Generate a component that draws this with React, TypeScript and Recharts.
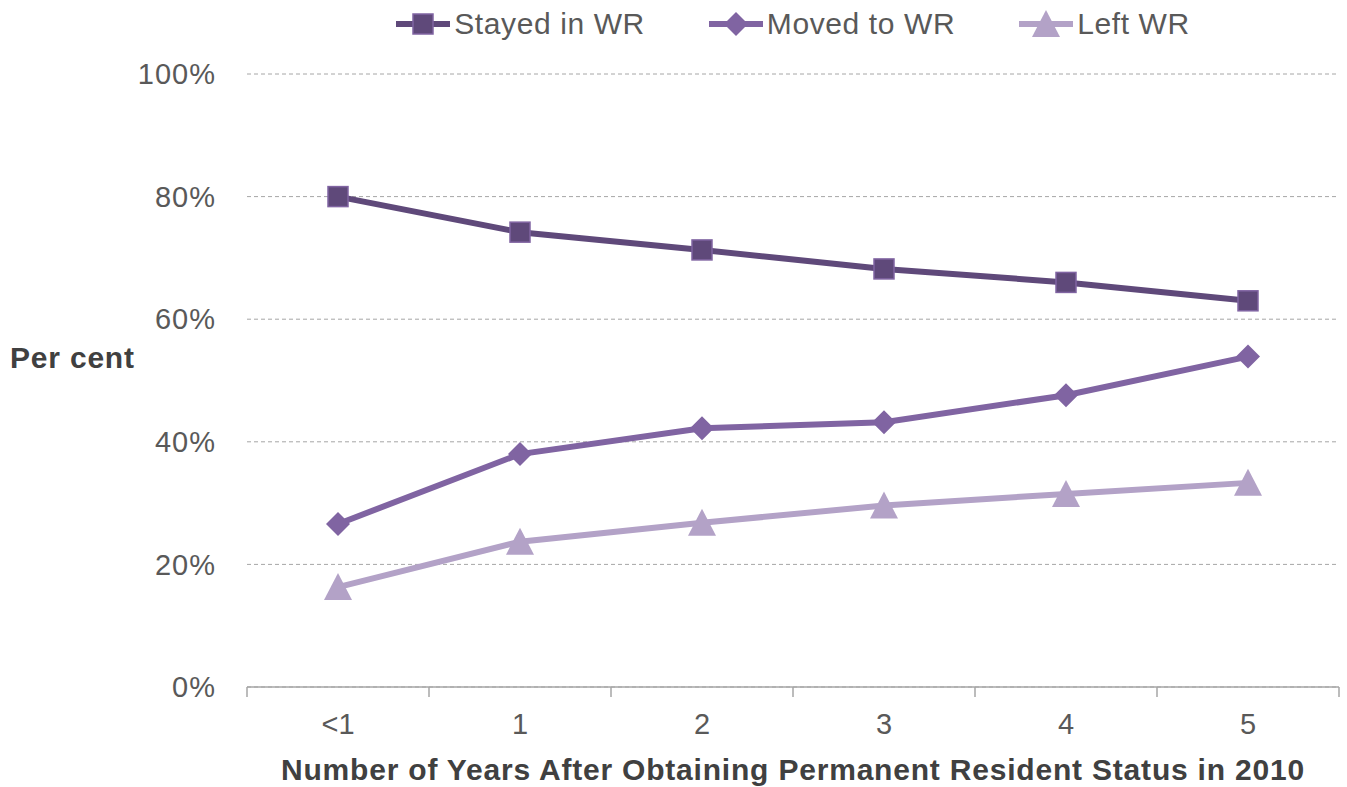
import React from "react";
import { LineChart, Line, XAxis, YAxis, CartesianGrid, Legend, Label } from "recharts";

const years = ["<1", "1", "2", "3", "4", "5"];
const stayed = [80.0, 74.2, 71.3, 68.2, 66.0, 63.0];
const moved = [26.6, 38.0, 42.2, 43.2, 47.6, 53.9];
const left = [16.3, 23.7, 26.8, 29.6, 31.5, 33.3];
const yTicks = [0, 20, 40, 60, 80, 100];
const edgeTicks = [0, 1, 2, 3, 4, 5, 6];
const edgeDomain = [0, 6];

const FONT = "'Liberation Sans', Arial, sans-serif";
const DARK = "#5f497a";
const MID = "#8064a2";
const LIGHT = "#b3a2c7";

const data = years.map((y, i) => ({
  year: y,
  idx: i,
  stayed: stayed[i],
  moved: moved[i],
  left: left[i],
}));

type Shape = "square" | "diamond" | "triangle";

function Marker({ cx, cy, shape, color }: { cx: number; cy: number; shape: Shape; color: string }) {
  if (shape === "square") {
    return <rect x={cx - 10} y={cy - 10} width={20} height={20} fill={color} stroke={MID} strokeWidth={1.5} />;
  }
  if (shape === "diamond") {
    return <polygon points={`${cx},${cy - 12} ${cx + 12},${cy} ${cx},${cy + 12} ${cx - 12},${cy}`} fill={color} />;
  }
  return <polygon points={`${cx},${cy - 14} ${cx + 14},${cy + 13} ${cx - 14},${cy + 13}`} fill={color} />;
}

const series: { key: string; name: string; color: string; shape: Shape }[] = [
  { key: "stayed", name: "Stayed in WR", color: DARK, shape: "square" },
  { key: "moved", name: "Moved to WR", color: MID, shape: "diamond" },
  { key: "left", name: "Left WR", color: LIGHT, shape: "triangle" },
];

function TopLegend() {
  return (
    <div style={{ display: "flex", justifyContent: "center", gap: 64, fontFamily: FONT }}>
      {series.map((s) => (
        <div key={s.key} style={{ display: "flex", alignItems: "center" }}>
          <svg width={54} height={30}>
            <line x1={0} y1={15} x2={54} y2={15} stroke={s.color} strokeWidth={6} />
            <Marker cx={27} cy={15} shape={s.shape} color={s.color} />
          </svg>
          <span style={{ fontSize: 30, color: "#595959", marginLeft: 4, letterSpacing: 0.6 }}>{s.name}</span>
        </div>
      ))}
    </div>
  );
}

export default function App() {
  return (
    <div style={{ position: "absolute", left: 0, top: 0, width: 1347, height: 787, background: "#fff" }}>
      <LineChart width={1347} height={787} data={data} margin={{ top: 74, right: 8, bottom: 0, left: 0 }}>
        <CartesianGrid vertical={false} stroke="#a6a6a6" strokeDasharray="4 3" />
        {/* boundary tick marks between categories, as in Excel */}
        <XAxis
          xAxisId="a-edge"
          dataKey="idx"
          type="number"
          domain={edgeDomain}
          ticks={edgeTicks}
          tickFormatter={() => ""}
          tickSize={10}
          height={1}
          allowDataOverflow
          axisLine={{ stroke: "#a6a6a6", strokeWidth: 1.5 }}
          tickLine={{ stroke: "#a6a6a6", strokeWidth: 1.5 }}
        />
        <XAxis
          xAxisId="b-cat"
          dataKey="year"
          scale="band"
          height={99}
          axisLine={false}
          tickLine={false}
          tickSize={0}
          tickMargin={25}
          tick={{ fill: "#595959", fontSize: 29, fontFamily: FONT }}
        >
          <Label
            value="Number of Years After Obtaining Permanent Resident Status in 2010"
            position="insideBottom"
            offset={7}
            style={{ fill: "#404040", fontSize: 30, fontWeight: "bold", fontFamily: FONT, letterSpacing: 0.8 }}
          />
        </XAxis>
        <YAxis
          domain={[0, 100]}
          ticks={yTicks}
          width={247}
          axisLine={false}
          tickLine={false}
          tickSize={0}
          tickMargin={31}
          tickFormatter={(v: number) => `${v}%`}
          tick={{ fill: "#595959", fontSize: 29, fontFamily: FONT, letterSpacing: 1 }}
        >
          <Label
            content={({ viewBox }: any) => (
              <text
                x={10}
                y={viewBox.y + viewBox.height / 2 - 23}
                dy="0.355em"
                fill="#404040"
                fontSize={30}
                fontWeight="bold"
                fontFamily={FONT}
                letterSpacing={0.8}
              >
                Per cent
              </text>
            )}
          />
        </YAxis>
        <Legend
          layout="horizontal"
          verticalAlign="middle"
          align="center"
          wrapperStyle={{ top: 7, left: 247, width: 1092 }}
          content={() => <TopLegend />}
        />
        {series.map((s) => (
          <Line
            key={s.key}
            xAxisId="b-cat"
            dataKey={s.key}
            name={s.name}
            stroke={s.color}
            strokeWidth={6}
            isAnimationActive={false}
            dot={(p: any) => <Marker key={`${s.key}-${p.index}`} cx={p.cx} cy={p.cy} shape={s.shape} color={s.color} />}
            activeDot={false}
          />
        ))}
      </LineChart>
    </div>
  );
}
